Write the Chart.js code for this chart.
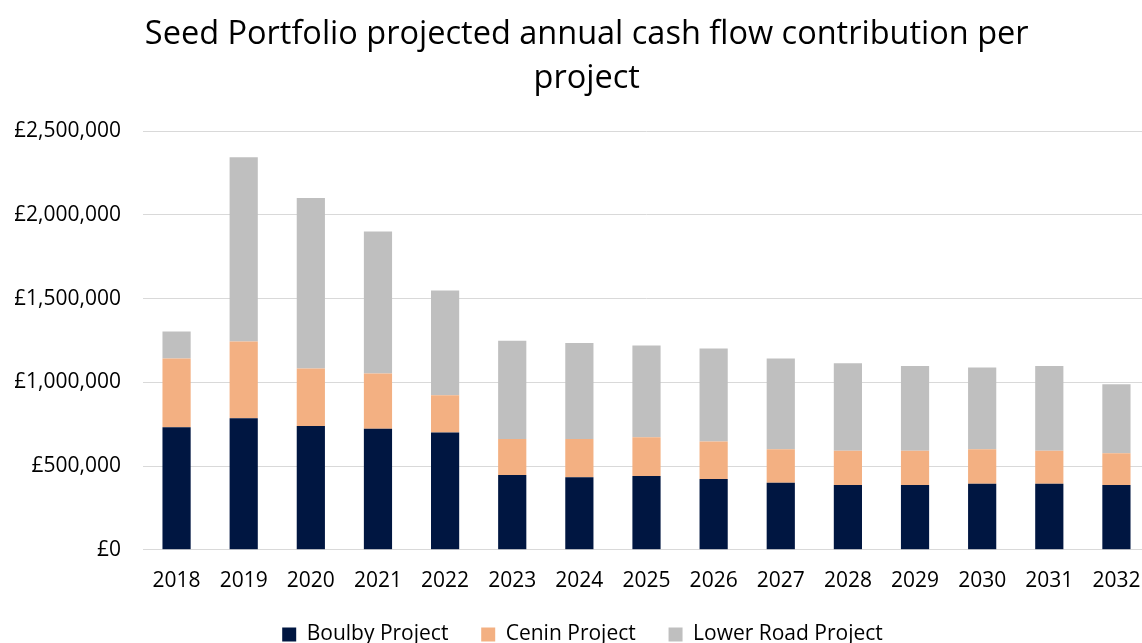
<!DOCTYPE html>
<html>
<head>
<meta charset="utf-8">
<script src="https://cdn.jsdelivr.net/npm/chart.js@4.4.1/dist/chart.umd.min.js"></script>
<style>
  html, body { margin: 0; padding: 0; background: #fff; overflow: hidden; }
  #wrap { position: relative; width: 1180px; height: 655px; }
</style>
</head>
<body>
<div id="wrap"><canvas id="cashChart"></canvas></div>
<script>
// Values (GBP)
const years = ['2018', '2019', '2020', '2021', '2022', '2023', '2024', '2025',
               '2026', '2027', '2028', '2029', '2030', '2031', '2032'];
const boulby = [731000, 785000, 739000, 723000, 701000, 447000, 433000, 441000,
                423000, 401000, 387000, 387000, 395000, 395000, 387000];
const cenin = [411000, 459000, 344000, 330000, 221000, 215000, 229000, 231000,
               223000, 199000, 205000, 205000, 205000, 197000, 189000];
const lowerRoad = [161000, 1100000, 1017000, 848000, 626000, 586000, 572000, 548000,
                   556000, 542000, 521000, 505000, 489000, 505000, 413000];

const font = "'Open Sans', sans-serif";

window.addEventListener("DOMContentLoaded", function() {
    const ctx = document.getElementById('cashChart').getContext('2d');
    window.currentChart = new Chart(ctx, {
        type: 'bar',
        data: {
            labels: years,
            datasets: [
                { label: 'Boulby Project', data: boulby, backgroundColor: '#001641' },
                { label: 'Cenin Project', data: cenin, backgroundColor: '#f3b082' },
                { label: 'Lower Road Project', data: lowerRoad, backgroundColor: '#bfbfbf' }
            ]
        },
        options: {
            responsive: true,
            maintainAspectRatio: false,
            animation: false,
            datasets: {
                bar: { categoryPercentage: 1, barPercentage: 0.42 }
            },
            layout: { padding: { left: 15, right: 30, bottom: 0 } },
            plugins: {
                title: {
                    display: true,
                    // leading space nudges the centred title a few px right, like the original
                    text: [' Seed Portfolio projected annual cash flow contribution per', ' project'],
                    color: '#000',
                    font: { family: font, size: 32.5, weight: 'normal', lineHeight: 1.37 },
                    padding: { top: 12, bottom: 30 }
                },
                legend: {
                    position: 'bottom',
                    labels: {
                        color: '#000',
                        font: { family: font, size: 21 },
                        boxWidth: 14,
                        boxHeight: 14,
                        padding: 11,
                        // wider gap between entries than the vertical padding allows
                        generateLabels: function(chart) {
                            const items = Chart.defaults.plugins.legend.labels.generateLabels(chart);
                            items.forEach(function(it, i) {
                                if (i < items.length - 1) it.text = it.text + '    ';
                            });
                            return items;
                        }
                    }
                },
                tooltip: { enabled: false }
            },
            scales: {
                x: {
                    stacked: true,
                    grid: { display: false, drawTicks: false },
                    border: { color: '#d9d9d9', width: 1 },
                    ticks: { color: '#000', font: { family: font, size: 21 }, padding: 19 }
                },
                y: {
                    stacked: true,
                    min: 0,
                    max: 2500000,
                    grid: { color: '#d9d9d9', drawTicks: false },
                    border: { display: false },
                    afterFit: function(scale) { scale.width = 128; },
                    ticks: {
                        stepSize: 500000,
                        padding: 22,
                        color: '#000',
                        font: { family: font, size: 21 },
                        callback: function(v) { return '£' + v.toLocaleString('en-GB'); }
                    }
                }
            }
        }
    });
});
</script>
</body>
</html>
